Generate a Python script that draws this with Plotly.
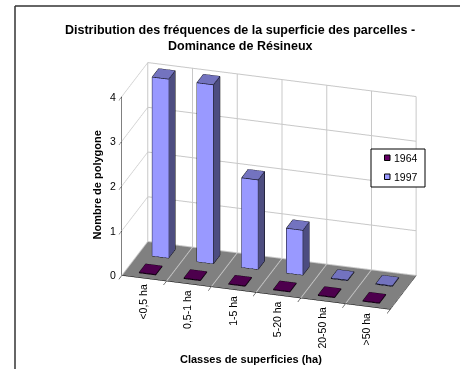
import math
import plotly.graph_objects as go

# Forest-patch size classes and polygon counts for each survey year
categories = ["<0,5 ha", "0,5-1 ha", "1-5 ha", "5-20 ha", "20-50 ha", ">50 ha"]
years = ["1964", "1997"]
values_1964 = [0, 0, 0, 0, 0, 0]
values_1997 = [4, 4, 2, 1, 0, 0]
value_ticks = [0, 1, 2, 3, 4]

BAR_W = 0.37
BAR_D = 0.5
W, H = 460, 369


def add_bar(store, cx, cy, h):
    """Append the vertices, triangles and outline of one column."""
    x0, x1 = cx - BAR_W / 2, cx + BAR_W / 2
    y0, y1 = cy - BAR_D / 2, cy + BAR_D / 2
    h = max(h, 0.012)
    n = len(store["x"])
    store["x"] += [x0, x1, x1, x0, x0, x1, x1, x0]
    store["y"] += [y0, y0, y1, y1, y0, y0, y1, y1]
    store["z"] += [0, 0, 0, 0, h, h, h, h]
    faces = [
        ((0, 1, 5), "front"), ((0, 5, 4), "front"),
        ((1, 2, 6), "side"), ((1, 6, 5), "side"),
        ((4, 5, 6), "top"), ((4, 6, 7), "top"),
    ]
    for (a, b, c), kind in faces:
        store["i"].append(n + a)
        store["j"].append(n + b)
        store["k"].append(n + c)
        store["f"].append(store["palette"][kind])
    for a, b in [(0, 1), (1, 5), (5, 4), (4, 0), (1, 2), (2, 6), (6, 5), (6, 7), (7, 4)]:
        store["lx"] += [store["x"][n + a], store["x"][n + b], None]
        store["ly"] += [store["y"][n + a], store["y"][n + b], None]
        store["lz"] += [store["z"][n + a], store["z"][n + b], None]


def series_trace(name, vals, row, palette):
    s = dict(x=[], y=[], z=[], i=[], j=[], k=[], f=[], lx=[], ly=[], lz=[], palette=palette)
    for idx, v in enumerate(vals):
        add_bar(s, idx + 0.5, row, v)
    mesh = go.Mesh3d(
        x=s["x"], y=s["y"], z=s["z"], i=s["i"], j=s["j"], k=s["k"],
        facecolor=s["f"], flatshading=True, name=name, showlegend=False,
        lighting=dict(ambient=1, diffuse=0, specular=0, fresnel=0, roughness=1),
        hoverinfo="skip",
    )
    edges = go.Scatter3d(
        x=s["lx"], y=s["ly"], z=s["lz"], mode="lines",
        line=dict(color="#000000", width=1.2), showlegend=False, hoverinfo="skip",
    )
    return [mesh, edges]


palette_1964 = dict(front="#660066", side="#330033", top="#4d004d")
palette_1997 = dict(front="#9999ff", side="#4d4d80", top="#7373bf")

fig = go.Figure()
for t in series_trace(years[0], values_1964, 0.5, palette_1964):
    fig.add_trace(t)
for t in series_trace(years[1], values_1997, 1.5, palette_1997):
    fig.add_trace(t)

theta, phi, dist = math.radians(17.3), math.radians(24), 3.0
eye = dict(
    x=dist * math.sin(theta) * math.cos(phi),
    y=-dist * math.cos(theta) * math.cos(phi),
    z=dist * math.sin(phi),
)

grid = "#c8c8c8"
label_font = dict(family="Liberation Sans", size=10.5, color="#000000")
scene_labels = [
    dict(x=i + 0.5, y=0, z=0, text=c, textangle=-90, showarrow=False,
         font=label_font, xanchor="center", yanchor="top", yshift=-4, xshift=-1.5)
    for i, c in enumerate(categories)
] + [
    dict(x=0, y=0, z=v, text=str(v), showarrow=False, font=label_font,
         xanchor="right", yanchor="middle", xshift=-4)
    for v in value_ticks
]


def px(x):
    return x / W


def py(y):
    return 1 - y / H


def paper_rect(x0, y0, x1, y1, fill, line_width=1):
    return dict(type="rect", xref="paper", yref="paper",
                x0=px(x0), x1=px(x1), y0=py(y0), y1=py(y1),
                fillcolor=fill, line=dict(color="#000000", width=line_width))


legend_shapes = [
    paper_rect(371, 149, 425, 187, "#ffffff"),
    paper_rect(384.5, 155, 390, 160.5, palette_1964["front"]),
    paper_rect(384.5, 174, 390, 179.5, palette_1997["front"]),
]
legend_labels = [
    dict(text=year, xref="paper", yref="paper", x=px(391.5), y=py(yy), xanchor="left",
         yanchor="middle", showarrow=False, font=dict(size=10.5))
    for year, yy in zip(years, [158, 177])
]

fig.update_layout(
    width=W, height=H,
    margin=dict(l=0, r=0, t=0, b=0),
    paper_bgcolor="#ffffff",
    showlegend=False,
    font=dict(family="Liberation Sans", size=10, color="#000000"),
    title=dict(
        text="<b>Distribution des fréquences de la superficie des parcelles -</b>",
        x=px(240), xanchor="center", y=py(30), yanchor="middle",
        font=dict(family="Liberation Sans", size=12.5),
    ),
    scene=dict(
        domain=dict(x=[0.17, 1], y=[0, 0.992]),
        aspectmode="manual",
        aspectratio=dict(x=1.536, y=0.478, z=1.07),
        camera=dict(eye=eye, center=dict(x=0, y=0, z=0), up=dict(x=0, y=0, z=1),
                    projection=dict(type="orthographic")),
        xaxis=dict(range=[0, 6], tickvals=[0, 1, 2, 3, 4, 5, 6], ticktext=[""] * 7,
                   ticks="outside", ticklen=3, tickcolor="#000000", title="",
                   showgrid=True, gridcolor=grid, showbackground=False,
                   showline=True, linecolor="#000000", zeroline=False, showspikes=False),
        yaxis=dict(range=[0, 2], tickvals=[], title="", showgrid=False,
                   showbackground=False, showline=True, linecolor="#000000",
                   zeroline=False, showspikes=False),
        zaxis=dict(range=[0, 4], tickvals=value_ticks, title="", ticks="outside",
                   ticklen=3, tickcolor="#000000", showticklabels=False,
                   showgrid=True, gridcolor=grid, showbackground=True,
                   backgroundcolor="#808080",
                   showline=True, linecolor="#000000", zeroline=False, showspikes=False),
        annotations=scene_labels,
    ),
    annotations=legend_labels + [
        dict(text="<b>Dominance de Résineux</b>", xref="paper", yref="paper",
             x=px(240), y=py(46), yanchor="middle", showarrow=False, font=dict(size=12.5)),
        dict(text="<b>Nombre de polygone</b>", xref="paper", yref="paper",
             x=px(88.5), y=py(185), textangle=-90, yanchor="middle", showarrow=False,
             font=dict(size=11)),
        dict(text="<b>Classes de superficies (ha)</b>", xref="paper", yref="paper",
             x=px(251), y=py(359), yanchor="middle", showarrow=False, font=dict(size=11)),
    ],
    shapes=legend_shapes + [
        dict(type="line", xref="paper", yref="paper", x0=px(15), x1=px(15), y0=0, y1=py(6),
             line=dict(color="#333333", width=1.5)),
        dict(type="line", xref="paper", yref="paper", x0=px(15), x1=1, y0=py(6), y1=py(6),
             line=dict(color="#333333", width=1.5)),
    ],
)

fig.write_html("out.html")
